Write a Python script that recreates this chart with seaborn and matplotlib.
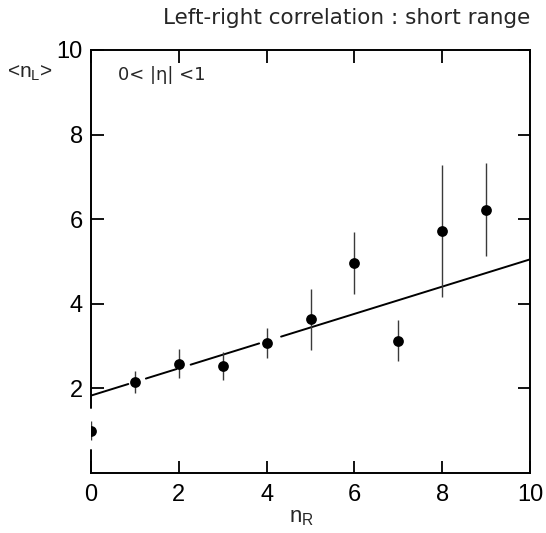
import numpy as np
import pandas as pd
import matplotlib
matplotlib.use("Agg")
import matplotlib.pyplot as plt
import seaborn as sns

# Data
n_R = [0, 1, 2, 3, 4, 5, 6, 7, 8, 9]
mean_nL = [1.00, 2.15, 2.58, 2.53, 3.08, 3.63, 4.97, 3.13, 5.72, 6.22]
err_nL = [0.22, 0.27, 0.34, 0.34, 0.35, 0.73, 0.73, 0.48, 1.55, 1.10]

# fitted straight line: <n_L> = a + b n_R
fit_a = 1.83
fit_b = 0.322
fit_gaps = [(0.85, 1.25), (1.95, 2.27), (3.83, 4.33)]

x_ticks = [0, 2, 4, 6, 8, 10]
y_ticks = [2, 4, 6, 8, 10]

title = "Left-right correlation : short range"
annot = "0< |η| <1"

sns.set_theme(style="ticks")
plt.rcParams["font.family"] = ["Liberation Sans", "DejaVu Sans"]
plt.rcParams["mathtext.fontset"] = "custom"
plt.rcParams["mathtext.rm"] = "Liberation Sans"
plt.rcParams["mathtext.it"] = "Liberation Sans"
plt.rcParams["xtick.direction"] = "in"
plt.rcParams["ytick.direction"] = "in"

fig = plt.figure(figsize=(5.46, 5.33), dpi=100)
ax = fig.add_axes([91 / 546, 1 - 473 / 533, (530 - 91) / 546, (473 - 50) / 533])

df = pd.DataFrame({"n_R": n_R, "mean": mean_nL, "err": err_nL})

# fit line (with small gaps as in the original drawing)
xl = np.linspace(0, 10, 1001)
yl = fit_a + fit_b * xl
for g0, g1 in fit_gaps:
    yl = np.where((xl > g0) & (xl < g1), np.nan, yl)
line_df = pd.DataFrame({"x": xl, "y": yl})
ax.plot(line_df["x"], line_df["y"], color="black", lw=1.4, zorder=2)

ax.errorbar(df["n_R"], df["mean"], yerr=df["err"], fmt="none",
            ecolor="#3a3a3a", elinewidth=1.0, capsize=0, zorder=3)
sns.scatterplot(data=df, x="n_R", y="mean", ax=ax, color="black", s=60,
                edgecolor="black", linewidth=0, zorder=4, legend=False)

ax.set_xlim(0, 10)
ax.set_ylim(0, 10)
ax.set_xticks(x_ticks)
ax.set_yticks(y_ticks)
ax.set_xticklabels([str(t) for t in x_ticks], fontfamily="Liberation Sans")
ax.set_yticklabels([str(t) for t in y_ticks], fontfamily="Liberation Sans")
ax.tick_params(axis="both", which="major", direction="in", length=9, width=1.3,
               top=True, right=True, bottom=True, left=True,
               labelsize=17, color="black", labelcolor="black")
ax.tick_params(axis="x", labeltop=False, pad=8)
ax.tick_params(axis="y", labelright=False, pad=6)
for s in ["top", "right", "bottom"]:
    ax.spines[s].set_linewidth(1.4)
    ax.spines[s].set_color("black")
# left spine broken around the n_R = 0 point
ax.spines["left"].set_visible(False)
ax.axvline(0, ymin=0.153, ymax=1, color="black", lw=1.4, clip_on=False, zorder=5)
ax.axvline(0, ymin=0, ymax=0.055, color="black", lw=1.4, clip_on=False, zorder=5)

ax.set_xlabel("")
ax.set_ylabel("")
fig.text(302 / 546, 1 - 518 / 533, r"n$_\mathrm{R}$", fontsize=16,
         ha="center", va="center")
fig.text(30 / 546, 1 - 73 / 533, r"<n$_\mathrm{L}$>", fontsize=15,
         ha="center", va="center")
fig.text(347 / 546, 1 - 18 / 533, title, fontsize=15.5, ha="center", va="center",
         fontfamily="DejaVu Sans")
ax.text(0.062, 0.94, annot, transform=ax.transAxes, fontsize=13,
        ha="left", va="center", fontfamily="DejaVu Sans")

fig.savefig("out.png", dpi=100)
